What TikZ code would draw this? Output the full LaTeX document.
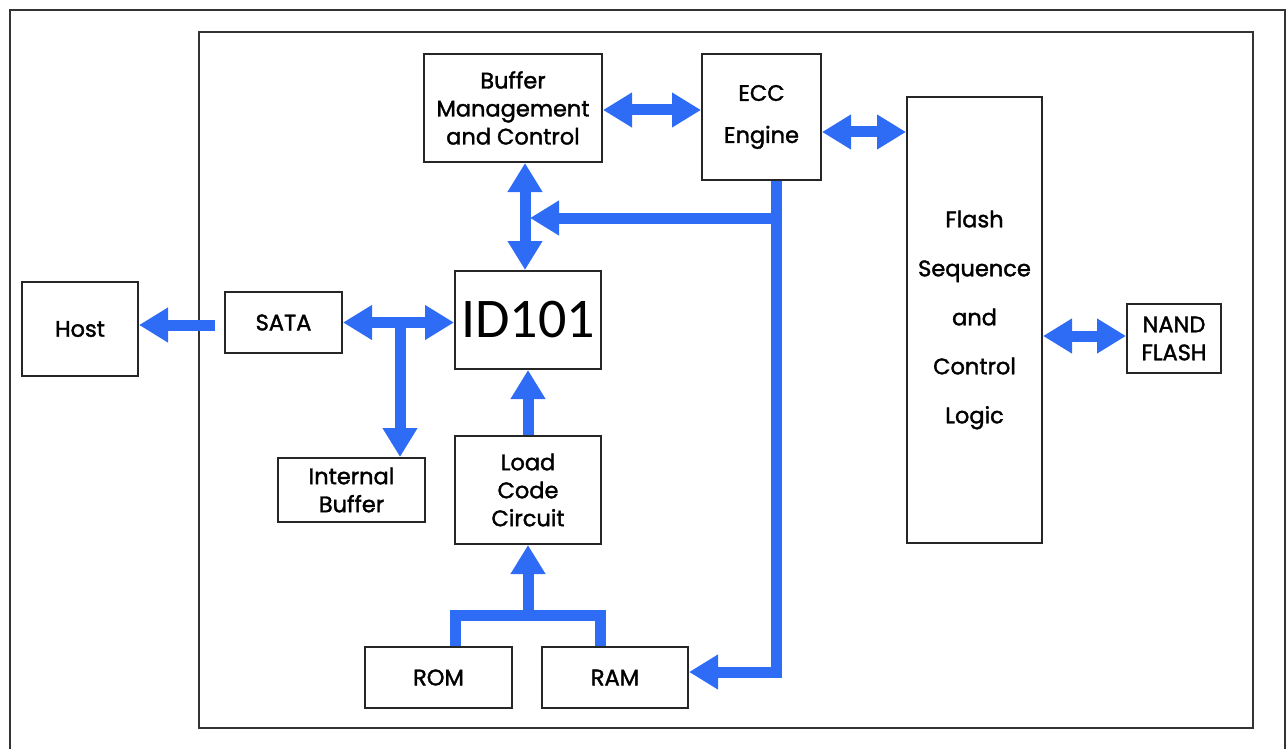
\documentclass[tikz,border=0pt]{standalone}
\usepackage{fontspec}
\setmainfont{Poppins}[FakeBold=1.6]
\newfontfamily\idfont{Carlito}
\usetikzlibrary{arrows.meta,calc}
\definecolor{busblue}{RGB}{47,108,246}
\tikzset{
  blk/.style={draw=black!85, line width=2pt, fill=white, inner sep=0pt, align=center,
    font=\fontsize{22.5}{28}\selectfont},
  frame/.style={draw=black!80, line width=2.5pt},
  bus/.style={draw=busblue, line width=11pt, line join=miter},
  tip/.tip={Triangle[length=29pt,width=33pt]},
}
\begin{document}
\begin{tikzpicture}[x=1pt,y=-1pt]
\useasboundingbox (0,0) rectangle (1287,749);
\draw[frame] (10,10) rectangle (1285,752);
\draw[frame] (199,32) rectangle (1253,728);

\node[blk, minimum width=116pt, minimum height=94pt] (host) at (80,329) {Host};
\node[blk, minimum width=117pt, minimum height=61pt] (sata) at (283.5,322.5) {SATA};
\node[blk, minimum width=147pt, minimum height=64pt] (ibuf) at (351.5,490) {Internal\\Buffer};
\node[blk, minimum width=146pt, minimum height=98pt, font=\idfont\fontsize{56}{60}\selectfont] (id) at (528,320) {ID101};
\node[blk, minimum width=178pt, minimum height=108pt] (bmc) at (513,108) {Buffer\\Management\\and Control};
\node[blk, minimum width=119pt, minimum height=126pt, font=\fontsize{22.5}{42}\selectfont] (ecc) at (761.5,117) {ECC\\Engine};
\node[blk, minimum width=146pt, minimum height=108pt] (load) at (528,490) {Load\\Code\\Circuit};
\node[blk, minimum width=147pt, minimum height=61pt] (rom) at (438.5,677.5) {ROM};
\node[blk, minimum width=146pt, minimum height=61pt] (ram) at (615,677.5) {RAM};
\node[blk, minimum width=135pt, minimum height=446pt, font=\fontsize{22.5}{49}\selectfont] (flash) at (974.5,320) {Flash\\Sequence\\and\\Control\\Logic};
\node[blk, minimum width=94pt, minimum height=69pt] (nand) at (1174,338.5) {NAND\\FLASH};

% SATA -> Host
\coordinate (hs) at (215,325);
\draw[bus,-tip] (hs) -- (hs -| host.east);
% SATA <-> ID101
\draw[bus,tip-tip] (sata.east) -- (sata.east -| id.west);
\coordinate (tj) at (400,322);
\draw[bus,-tip] (tj) -- (tj |- ibuf.north);
% BMC <-> ECC
\coordinate (be) at (602,110);
\draw[bus,tip-tip] (be -| bmc.east) -- (be -| ecc.west);
% ECC <-> Flash
\coordinate (ef) at (821,132);
\draw[bus,tip-tip] (ef -| ecc.east) -- (ef -| flash.west);
% Flash <-> NAND
\coordinate (fn) at (1042,336);
\draw[bus,tip-tip] (fn -| flash.east) -- (fn -| nand.west);
% BMC <-> ID101
\coordinate (bx) at (525,218);
\draw[bus,tip-tip] (bx |- bmc.south) -- (bx |- id.north);
% ECC bus
\coordinate (eb) at (776,218);
\coordinate (eb2) at (776,672);
\draw[bus] (eb |- ecc.south) -- (eb2) -- ++(-40,0);
\draw[bus,-tip] (eb2) -- (eb2 -| ram.east);
\draw[bus,-tip] (eb) -- ($(bx)+(5,0)$);
% Load -> ID101
\draw[bus,-tip] (load.north) -- (id.south);
% ROM/RAM -> Load
\coordinate (jl) at (455,615);
\coordinate (jr) at (600,615);
\draw[bus] (jl |- rom.north) -- (jl) -- (jr) -- (jr |- ram.north);
\draw[bus,-tip] (load.south |- jl) -- (load.south);
\end{tikzpicture}
\end{document}
